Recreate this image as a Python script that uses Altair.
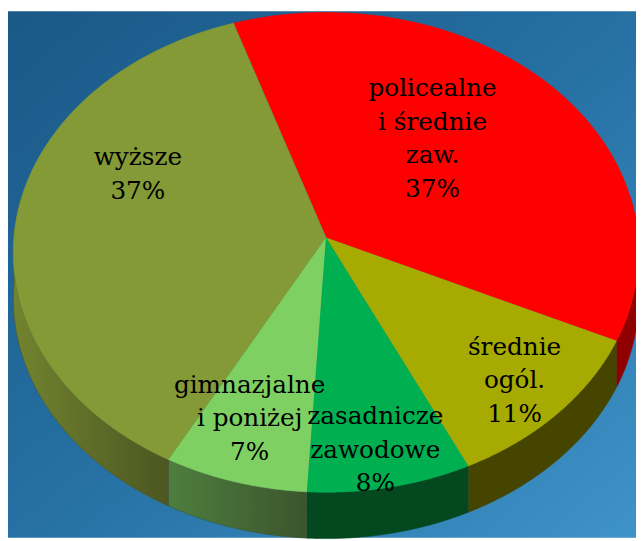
import math
import altair as alt
import pandas as pd

# ---- data ----
categories = ["policealne i średnie zaw.", "średnie ogól.", "zasadnicze zawodowe",
              "gimnazjalne i poniżej", "wyższe"]
label_words = [["policealne", "i średnie", "zaw."], ["średnie", "ogól."],
               ["zasadnicze", "zawodowe"], ["gimnazjalne", "i poniżej"], ["wyższe"]]
values = [37, 11, 8, 7, 37]

# ---- styles ----
top_colors = ["#FF0000", "#A7AA00", "#00B050", "#7FD062", "#839A37"]
side_fill = ["#900000", "#454500", "#03481F", None, None]
side_grad = {3: ("#4E7E3E", "#3B552D"), 4: ("#72842F", "#4C5621")}
label_radius = [0.55, 0.82, 0.855, 0.76, 0.67]
label_shift_deg = [-8.7, 0.0, 1.0, 2.0, 18.7]

START = -18.3 * math.pi / 180   # first slice angle (clockwise from top)
K = 0.062                       # perspective strength
DEPTH = 0.194                   # pie thickness (y units)
N = 90                          # samples per arc
S0 = 80 * math.pi / 180         # visible side range
S1 = 280 * math.pi / 180
LINE_H = 34
FONT_SIZE = 25

W, H = 636, 533
SX, SY = 316.0, 242.0
CX, CY = 322.0, 229.0
xs = alt.Scale(domain=[-CX / SX, (W - CX) / SX], nice=False, zero=False)
ys = alt.Scale(domain=[(CY - H) / SY, CY / SY], nice=False, zero=False)

df = pd.DataFrame({
    "cat": categories,
    "value": values,
    "idx": list(range(len(categories))),
    "top": top_colors,
    "label": ["\n".join(w + [f"{v}%"]) for w, v in zip(label_words, values)],
    "nlines": [len(w) + 1 for w in label_words],
    "lr": label_radius,
    "ls": label_shift_deg,
})

base = (alt.Chart(df)
        .transform_window(cum="sum(value)", sort=[alt.SortField("idx", order="ascending")],
                          frame=[None, 0])
        .transform_joinaggregate(total="sum(value)")
        .transform_calculate(
            a0=f"{START} + 2*PI*(datum.cum - datum.value)/datum.total",
            a1=f"{START} + 2*PI*datum.cum/datum.total"))

X = alt.X("px:Q", scale=xs, axis=None)
Y = alt.Y("py:Q", scale=ys, axis=None)

# background
bg = alt.Chart(pd.DataFrame({"bg": [0]})).mark_rect(
    fill=alt.LinearGradient(gradient="linear",
                            stops=[alt.GradientStop(color="#1A5887", offset=0),
                                   alt.GradientStop(color="#2670A3", offset=0.5),
                                   alt.GradientStop(color="#3E93C8", offset=1)],
                            x1=0, y1=0, x2=1, y2=1)
).encode(x=alt.value(0), x2=alt.value(W), y=alt.value(0), y2=alt.value(H))

# side walls
side_base = (base
             .transform_calculate(s0=f"max(datum.a0, {S0})", s1=f"min(datum.a1, {S1})")
             .transform_filter("datum.s1 > datum.s0")
             .transform_calculate(k=f"sequence(0, {2 * N + 2})")
             .transform_flatten(["k"])
             .transform_calculate(
                 th=f"datum.k <= {N} ? datum.s0 + (datum.s1-datum.s0)*datum.k/{N} : "
                    f"datum.s1 - (datum.s1-datum.s0)*(datum.k-{N + 1})/{N}",
                 dz=f"datum.k <= {N} ? 0 : {DEPTH}")
             .transform_calculate(
                 px=f"sin(datum.th)/(1+{K}*cos(datum.th))",
                 py=f"cos(datum.th)/(1+{K}*cos(datum.th)) - datum.dz"))

side_layers = []
for i in range(len(categories)):
    if i in side_grad:
        c0, c1 = side_grad[i]
        fill = alt.LinearGradient(gradient="linear",
                                  stops=[alt.GradientStop(color=c0, offset=0),
                                         alt.GradientStop(color=c1, offset=1)],
                                  x1=0, y1=0, x2=1, y2=0)
        stroke = c1
    else:
        fill = side_fill[i]
        stroke = side_fill[i]
    side_layers.append(
        side_base.transform_filter(f"datum.idx == {i}")
        .mark_line(filled=True, fill=fill, stroke=stroke, strokeWidth=0.6)
        .encode(x=X, y=Y, order="k:Q", detail="cat:N"))

# top face
top = (base
       .transform_calculate(k=f"sequence(0, {N + 2})")
       .transform_flatten(["k"])
       .transform_calculate(th=f"datum.a0 + (datum.a1-datum.a0)*min(datum.k,{N})/{N}")
       .transform_calculate(
           px=f"datum.k > {N} ? 0 : sin(datum.th)/(1+{K}*cos(datum.th))",
           py=f"datum.k > {N} ? 0 : cos(datum.th)/(1+{K}*cos(datum.th))")
       .mark_line(filled=True, strokeWidth=0.6)
       .encode(x=X, y=Y, order="k:Q", detail="cat:N",
               fill=alt.Fill("top:N", scale=None),
               stroke=alt.Stroke("top:N", scale=None)))

# labels (block centred on the label point)
labels = (base
          .transform_calculate(mid="(datum.a0+datum.a1)/2 + datum.ls*PI/180")
          .transform_calculate(
              px=f"datum.lr*sin(datum.mid)/(1+{K}*datum.lr*cos(datum.mid))",
              py=f"datum.lr*cos(datum.mid)/(1+{K}*datum.lr*cos(datum.mid))"
                 f" + (datum.nlines-1)/2*{LINE_H}/{SY}")
          .mark_text(font="DejaVu Serif", fontSize=FONT_SIZE, lineBreak="\n",
                     lineHeight=LINE_H, align="center", baseline="middle", color="#000000")
          .encode(x=X, y=Y, text="label:N"))

chart = (alt.layer(bg, *side_layers, top, labels)
         .properties(width=W, height=H, padding=0, autosize="none")
         .configure_view(stroke=None))

chart.save("out.html", embed_options={"renderer": "svg", "actions": False})
